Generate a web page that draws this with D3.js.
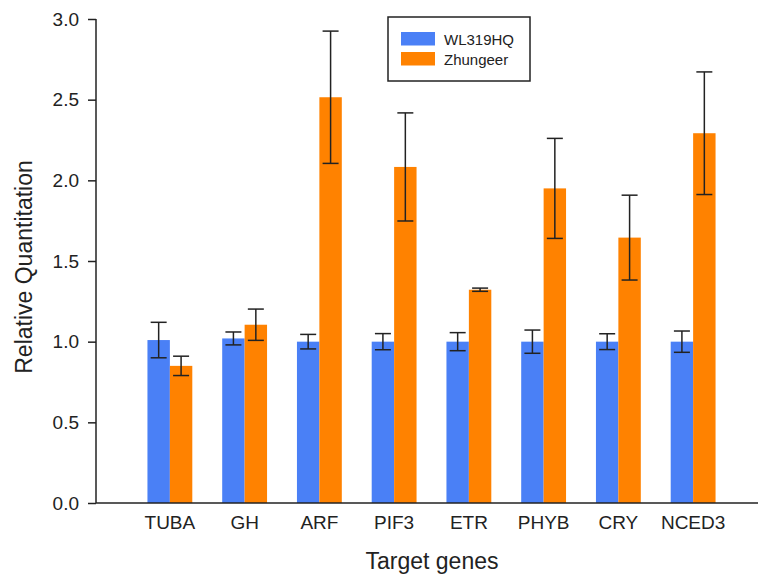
<!DOCTYPE html>
<html>
<head>
<meta charset="utf-8">
<script src="https://cdn.jsdelivr.net/npm/d3@7"></script>
<style>
  html, body { margin: 0; padding: 0; background: #fff; }
  svg { display: block; font-family: "Liberation Sans", Arial, sans-serif; }
</style>
</head>
<body>
<svg id="chart" width="758" height="576"></svg>
<script>
// data
const genes = ["TUBA", "GH", "ARF", "PIF3", "ETR", "PHYB", "CRY", "NCED3"];
const seriesNames = ["WL319HQ", "Zhungeer"];
const seriesColors = ["#4a80f6", "#ff8200"];
const wlValues = [1.01, 1.02, 1.00, 1.00, 1.00, 1.00, 1.00, 1.00];
const wlErrors = [0.11, 0.04, 0.045, 0.05, 0.056, 0.072, 0.049, 0.066];
const zhValues = [0.85, 1.105, 2.515, 2.083, 1.322, 1.95, 1.645, 2.292];
const zhErrors = [0.06, 0.097, 0.41, 0.335, 0.01, 0.31, 0.263, 0.38];
const yTicks = [0, 0.5, 1.0, 1.5, 2.0, 2.5, 3.0];

const svg = d3.select("#chart");
const axisColor = "#222";

// scales
const x = d3.scaleBand().domain(genes).range([132.5, 730.5])
  .paddingInner(0.4).paddingOuter(0.2);
const xs = d3.scaleBand().domain(seriesNames).range([0, x.bandwidth()]);
const y = d3.scaleLinear().domain([0, 3]).range([503, 19]);

const rows = genes.map((g, i) => ({
  gene: g,
  vals: [
    { s: seriesNames[0], v: wlValues[i], e: wlErrors[i], c: seriesColors[0] },
    { s: seriesNames[1], v: zhValues[i], e: zhErrors[i], c: seriesColors[1] }
  ]
}));

// bars
const grp = svg.append("g").selectAll("g").data(rows).join("g")
  .attr("transform", d => `translate(${x(d.gene)},0)`);

grp.selectAll("rect").data(d => d.vals).join("rect")
  .attr("x", d => xs(d.s))
  .attr("y", d => y(d.v))
  .attr("width", xs.bandwidth())
  .attr("height", d => y(0) - y(d.v))
  .attr("fill", d => d.c);

// error bars
const capW = 16;
const eb = grp.selectAll("g.err").data(d => d.vals).join("g").attr("class", "err")
  .attr("stroke", axisColor).attr("stroke-width", 1.5);
eb.append("line")
  .attr("x1", d => xs(d.s) + xs.bandwidth() / 2).attr("x2", d => xs(d.s) + xs.bandwidth() / 2)
  .attr("y1", d => y(d.v + d.e)).attr("y2", d => y(d.v - d.e));
eb.append("line")
  .attr("x1", d => xs(d.s) + xs.bandwidth() / 2 - capW / 2).attr("x2", d => xs(d.s) + xs.bandwidth() / 2 + capW / 2)
  .attr("y1", d => y(d.v + d.e)).attr("y2", d => y(d.v + d.e));
eb.append("line")
  .attr("x1", d => xs(d.s) + xs.bandwidth() / 2 - capW / 2).attr("x2", d => xs(d.s) + xs.bandwidth() / 2 + capW / 2)
  .attr("y1", d => y(d.v - d.e)).attr("y2", d => y(d.v - d.e));

// y axis
const yAxis = svg.append("g").attr("transform", "translate(96,0)")
  .call(d3.axisLeft(y).tickValues(yTicks).tickFormat(d3.format(".1f")).tickSize(8).tickPadding(9));
yAxis.select(".domain").attr("stroke", axisColor).attr("stroke-width", 1.5).attr("d", "M0,19V503");
yAxis.selectAll(".tick line").attr("stroke", axisColor).attr("stroke-width", 1.5);
yAxis.selectAll(".tick text").attr("font-size", 19).attr("fill", "#222")
  .attr("font-family", "Liberation Sans, Arial, sans-serif");

// x axis
const xAxis = svg.append("g").attr("transform", "translate(0,503)")
  .call(d3.axisBottom(x).tickSize(0).tickPadding(13));
xAxis.select(".domain").attr("stroke", axisColor).attr("stroke-width", 1.5).attr("d", "M96,0H758");
xAxis.selectAll(".tick text").attr("font-size", 19).attr("fill", "#222")
  .attr("font-family", "Liberation Sans, Arial, sans-serif");

// axis titles
svg.append("text")
  .attr("transform", "translate(32,267) rotate(-90)")
  .attr("text-anchor", "middle")
  .attr("font-size", 23).attr("fill", "#222")
  .text("Relative Quantitation");
svg.append("text")
  .attr("x", 432).attr("y", 569)
  .attr("text-anchor", "middle")
  .attr("font-size", 23).attr("fill", "#222")
  .text("Target genes");

// legend
const lg = svg.append("g");
lg.append("rect").attr("x", 388).attr("y", 17).attr("width", 142).attr("height", 64)
  .attr("fill", "#fff").attr("stroke", axisColor).attr("stroke-width", 1.5);
seriesNames.forEach((s, i) => {
  lg.append("rect").attr("x", 401).attr("y", 32 + i * 20).attr("width", 34).attr("height", 13.5)
    .attr("fill", seriesColors[i]);
  lg.append("text").attr("x", 444).attr("y", 44.5 + i * 20)
    .attr("font-size", 15).attr("fill", "#222").text(s);
});
</script>
</body>
</html>
